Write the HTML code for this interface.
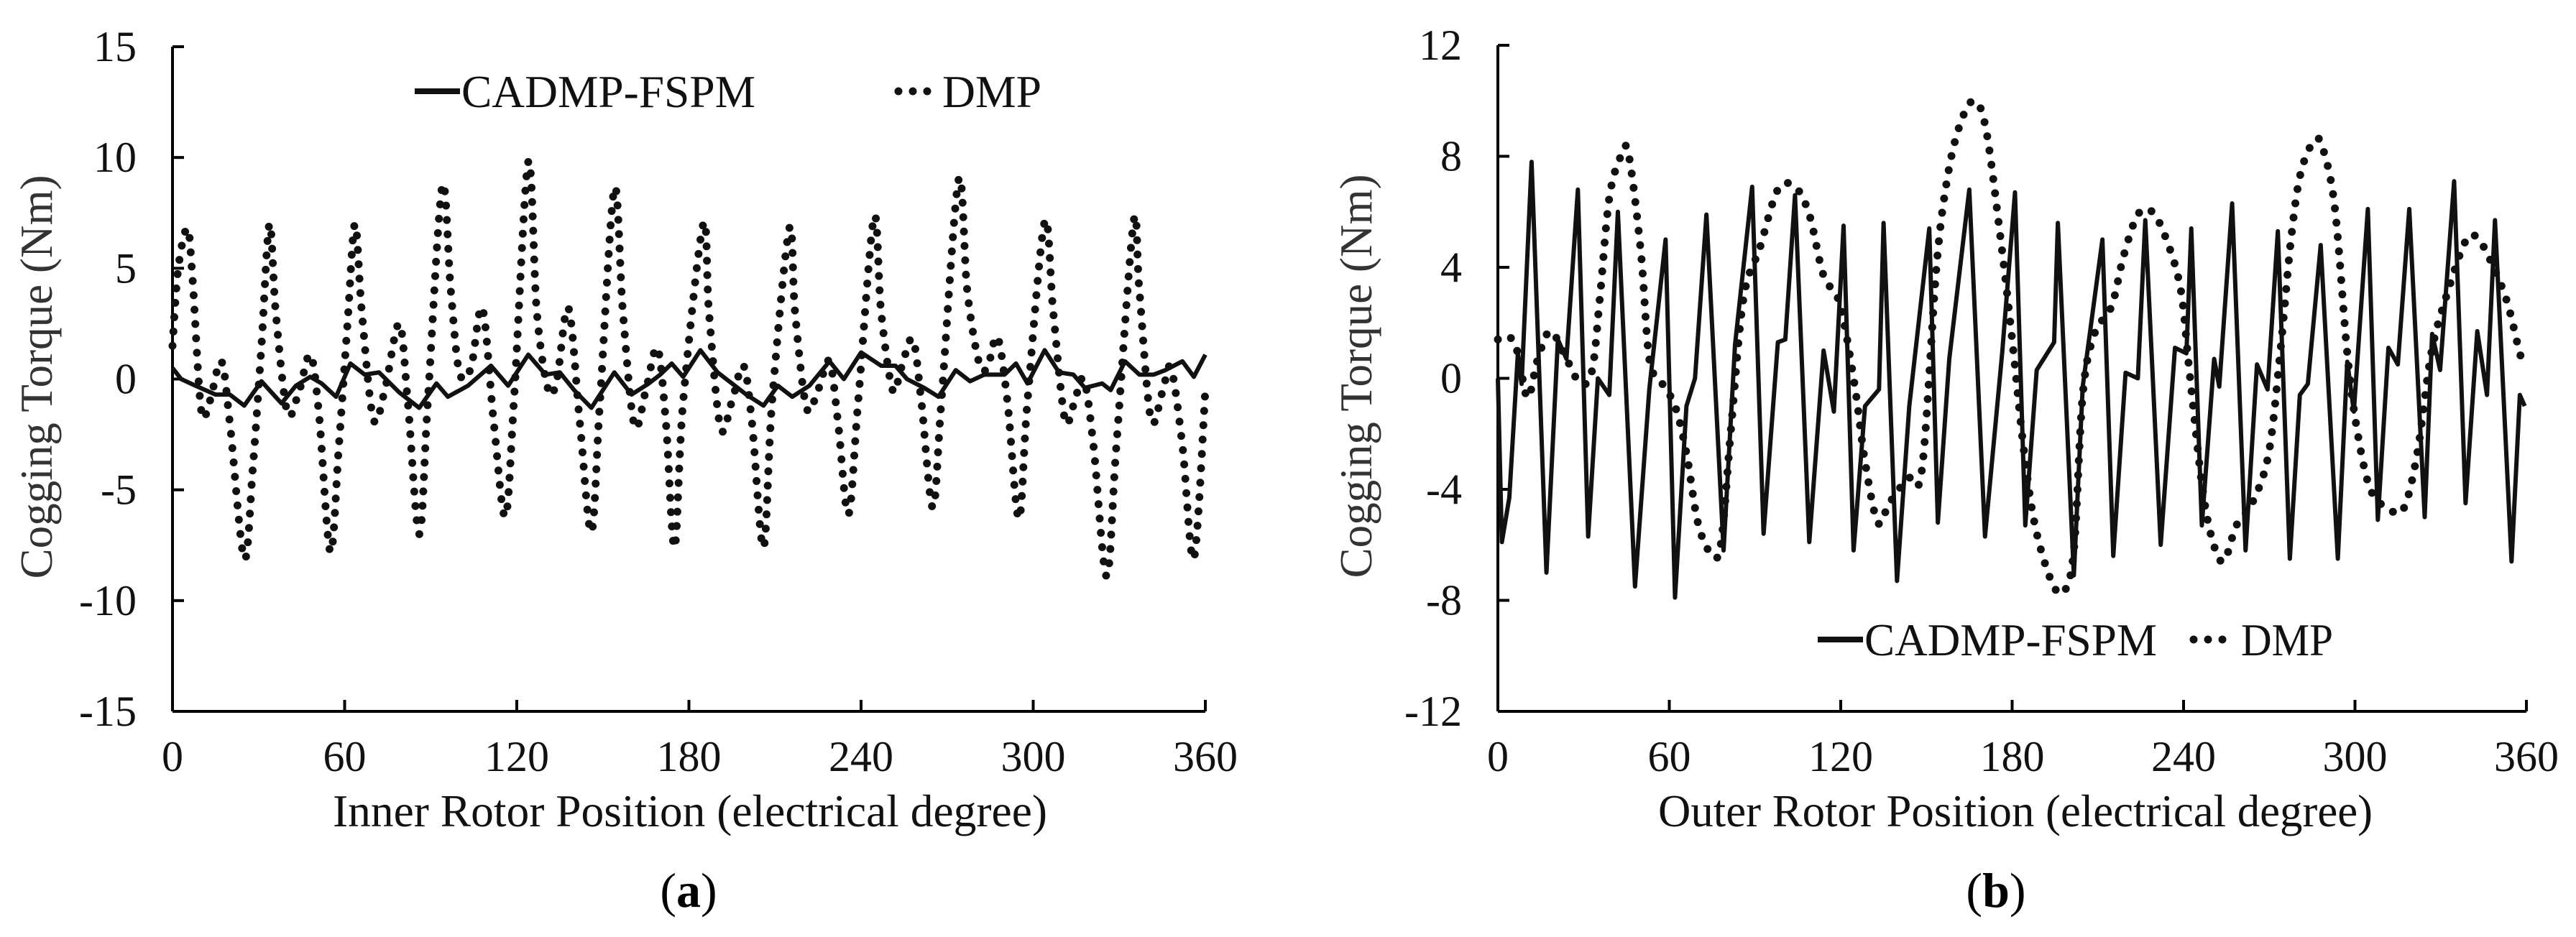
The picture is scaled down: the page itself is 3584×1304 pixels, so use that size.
<!DOCTYPE html>
<html><head><meta charset="utf-8"><style>
html,body{margin:0;padding:0;background:#fff;}
svg{display:block;font-family:"Liberation Serif",serif;}
</style></head><body>
<svg id="fig" width="3584" height="1304" viewBox="0 0 3584 1304" xmlns="http://www.w3.org/2000/svg">
<g id="pa"></g>
<g id="pb"></g>
</svg>
<script>
const xTicks=[0,60,120,180,240,300,360];
const aYTicks=[-15,-10,-5,0,5,10,15];
const bYTicks=[-12,-8,-4,0,4,8,12];
const aCadX=[0,3,8,15,20,25,31,38,43,48,52,57,62,67,72,79,86,92,96,103,111,117,124,130,135,140,146,154,160,166,170,174,178,184,190,195,200,206,211,216,222,229,234,240,247,252,256,262,267,273,278,283,290,294,298,304,309,314,318,324,327,332,337,342,346,352,356,360];
const aCadY=[0.5,0,-0.3,-0.7,-0.7,-1.2,-0.1,-1.1,-0.3,0.1,-0.2,-0.8,0.7,0.2,0.3,-0.6,-1.3,-0.2,-0.8,-0.3,0.6,-0.3,1.1,0.2,0.3,-0.5,-1.3,0.3,-0.7,-0.2,0.2,0.7,0.1,1.3,0.3,-0.2,-0.7,-1.2,-0.3,-0.8,-0.3,0.8,0,1.2,0.6,0.6,0,-0.4,-0.8,0.4,-0.1,0.2,0.2,0.7,-0.2,1.3,0.3,0.2,-0.4,-0.2,-0.5,0.8,0.2,0.2,0.4,0.8,0.1,1.1];
const aDmpX=[0,2,5.2,7,10,13,17,20,25,28,31,33.8,36,40,44,48,51,55,58,61,63.6,66,70,74,79,82,86,89,94,97,100,104,108,112,116,119,124,127,131,134,138,142,146,149,154,157,161,165,169,172,175,178,185,187,191,195,199,202,206,209,215,217,221,225,229,232,235.6,239,244.5,247,251,254,258,261,265,268,274,277,281,284,287.5,291,295,298,304,307,311,314,317.6,321,325.6,329,335,337,341,345,348,352,356,360];
const aDmpY=[1.5,5,6.8,4.5,-1.4,-1,0.8,-2,-8.1,-4,1.5,7,3,-1.5,-0.6,1.1,-1.5,-7.8,-3,2.5,7,3,-1.8,-0.5,2.5,-1,-7,-1,8.7,4,0.3,0.5,3.2,-2,-6.2,-1,9.8,3,-0.5,0,3.2,-2,-6.9,-1,8.6,3,-2.1,-0.5,1.4,-2,-7.6,-1,7,3,-2.2,-1,0.6,-2,-7.6,-1,6.8,3,-1.3,-0.5,0.8,-2,-6.1,-1,7.3,3,-0.5,0.5,1.8,-1,-5.8,-1,9,4,0.8,0.5,1.9,-1,-6.3,-1,7.1,3,-1.8,-1.2,0,-3,-8.9,-3,7.1,4,-1.8,-0.6,0.5,-3,-8.1,-0.5];
const bCadX=[0,1.4,4,7,8.3,11.8,17,21,24,28,31.6,35,39,42,48,53,58.7,62,66,69,73,79,83,89,93,98,100.6,104,109,114,117.6,121,124.5,128.5,133.4,135,139.7,144,151,154,158,165,170.5,176.5,181,184.6,188.6,194.7,196,201.6,204.7,211.6,215.4,219.7,224,226.6,232,237,241,242.7,246.4,250.7,252.5,257,261.7,265.7,269.4,273,277.2,280.7,283.5,288,294,297.3,299.6,304.5,308,311.7,315,319,324.4,327,329.8,334.7,338.7,342.8,346.2,349,354.8,357.7,359.4];
const bCadY=[0,-5.9,-4.3,0.9,-0.2,7.8,-7,1.4,0.7,6.8,-5.7,0,-0.6,6,-7.5,-0.4,5,-7.9,-1,0,5.9,-6.2,1.2,6.9,-5.6,1.3,1.4,6.6,-5.9,1,-1.2,5.5,-6.2,-1,-0.4,5.6,-7.3,-1,5.4,-5.2,0.7,6.8,-5.7,0.9,6.7,-5.3,0.3,1.3,5.6,-7.1,-0.3,5,-6.4,0.2,0,5.7,-6,1.1,0.9,5.4,-5.3,0.7,-0.3,6.3,-6.2,0.5,-0.4,5.3,-6.5,-0.6,-0.2,4.8,-6.5,0.6,-1.2,6.1,-5.1,1.1,0.5,6.1,-5,1.6,0.3,7.1,-4.5,1.7,-0.6,5.7,-6.6,-0.6,-1];
const bDmpX=[0,4,7,10.4,14,18.4,24,29,33,35.7,39,43,45.7,50,53,57,62,66,70,74.5,78,81.7,86,91.7,98,104,109,114,119.6,124.8,128.5,133,137,143.5,148.4,153.5,157.3,161.6,166.5,170.8,176,180,184,188,193.7,198,201.6,204.7,208.8,214.8,219,224,229,234,239,242,246.4,250,254,258.5,264,269.8,274,277.6,281,286,289,293,297.3,300.8,305.4,311.7,317,321.8,326.7,332.4,339,343.3,348.5,353.4,357.7,359.4];
const bDmpY=[1.4,1.5,0.9,-0.7,0.7,1.7,0.7,-0.2,0.3,2.9,6.5,8,8.1,4.6,0.7,-0.1,-1,-2.7,-5.2,-6.3,-6,-1.7,2.9,4.7,6.8,6.9,5.9,3.7,2.7,-0.2,-3,-5.2,-4.5,-3.6,-3.3,4,7.2,9.1,10,9,5,1.4,-2.5,-5.3,-7.3,-7.7,-6.2,-0.6,1.6,2.6,4.4,5.9,6,5,3.2,0.3,-3.8,-5.8,-6.6,-5.3,-4.5,-2.7,1.1,5,7.4,8.6,8.2,6.1,0.9,-1.9,-4,-4.7,-4.7,-2.7,0.9,3.1,5,5,4,2.7,0.9,0.5];

const NS="http://www.w3.org/2000/svg";
function mk(parent,tag,attrs,txt){const e=document.createElementNS(NS,tag);for(const k in attrs)e.setAttribute(k,attrs[k]);if(txt!==undefined)e.textContent=txt;parent.appendChild(e);return e;}
function spline(pts){let d=`M${pts[0][0]},${pts[0][1]}`;for(let i=0;i<pts.length-1;i++){const p0=pts[Math.max(i-1,0)],p1=pts[i],p2=pts[i+1],p3=pts[Math.min(i+2,pts.length-1)];const c1x=p1[0]+(p2[0]-p0[0])/6,c1y=p1[1]+(p2[1]-p0[1])/6,c2x=p2[0]-(p3[0]-p1[0])/6,c2y=p2[1]-(p3[1]-p1[1])/6;d+=`C${c1x},${c1y} ${c2x},${c2y} ${p2[0]},${p2[1]}`;}return d;}

function panel(g,cfg){
  const X=v=>cfg.x0+(v-0)/360*(cfg.x1-cfg.x0);
  const Y=v=>cfg.y0+(cfg.ymax-v)/(cfg.ymax-cfg.ymin)*(cfg.y1-cfg.y0);
  const yb=Y(cfg.ymin);
  let e=mk(g,'line',{x1:cfg.x0,y1:cfg.y0,x2:cfg.x0,y2:yb,stroke:'#000','stroke-width':4});
  
  
  e=mk(g,'line',{x1:cfg.x0,y1:yb,x2:cfg.x1,y2:yb,stroke:'#000','stroke-width':4});
  
  
  cfg.yTicks.forEach(t=>{
    mk(g,'line',{x1:cfg.x0,y1:Y(t),x2:cfg.x0+16,y2:Y(t),stroke:'#000','stroke-width':4});
    const tx=mk(g,'text',{x:cfg.x0-50,y:Y(t)+20,'text-anchor':'end','font-size':60,fill:'#111'},String(t));
    
    
  });
  xTicks.forEach(t=>{
    mk(g,'line',{x1:X(t),y1:yb,x2:X(t),y2:yb-16,stroke:'#000','stroke-width':4});
    const tx=mk(g,'text',{x:X(t),y:1073,'text-anchor':'middle','font-size':60,fill:'#111'},String(t));
    
    
  });
  const cy=(cfg.y0+yb)/2;
  let t=mk(g,'text',{x:0,y:0,transform:`translate(${cfg.ytX},${cy-3}) rotate(-90)`,'text-anchor':'middle','font-size':64,fill:'#333',textLength:562,lengthAdjust:'spacingAndGlyphs'},'Cogging Torque (Nm)');
  
  
  t=mk(g,'text',{x:cfg.xtX,y:1150,'text-anchor':'middle','font-size':64,fill:'#111',textLength:cfg.xtW,lengthAdjust:'spacingAndGlyphs'},cfg.xtitle);
  
  
  t=mk(g,'text',{x:cfg.capX,y:1262,'text-anchor':'middle','font-size':68,fill:'#000'},'');
  mk(t,'tspan',{},'(');mk(t,'tspan',{'font-weight':'bold'},cfg.cap);mk(t,'tspan',{},')');
  
  
  const dp=cfg.dx.map((x,i)=>[X(x),Y(cfg.dy[i])]);
  let p=mk(g,'path',{d:spline(dp),fill:'none',stroke:'#111','stroke-width':11,'stroke-linecap':'round','stroke-dasharray':'0 20'});
  
  
  const cp=cfg.cx.map((x,i)=>X(x)+','+Y(cfg.cy[i])).join(' ');
  p=mk(g,'polyline',{points:cp,fill:'none',stroke:'#111','stroke-width':6,'stroke-linejoin':'round'});
  
  
  const L=cfg.leg;
  mk(g,'line',{x1:L.s1,y1:L.y,x2:L.s2,y2:L.y,stroke:'#111','stroke-width':8});
  t=mk(g,'text',{x:L.t1,y:L.y+22,'font-size':64,fill:'#111',textLength:L.w1,lengthAdjust:'spacingAndGlyphs'},'CADMP-FSPM');
  
  
  mk(g,'line',{x1:L.d1,y1:L.y,x2:L.d2,y2:L.y,stroke:'#111','stroke-width':11,'stroke-linecap':'round','stroke-dasharray':'0 20'});
  t=mk(g,'text',{x:L.t2,y:L.y+22,'font-size':64,fill:'#111',textLength:L.w2,lengthAdjust:'spacingAndGlyphs'},'DMP');
  
  
}
panel(document.getElementById('pa'),{x0:240,x1:1677,y0:65,y1:990,ymin:-15,ymax:15,yTicks:aYTicks,xtitle:'Inner Rotor Position (electrical degree)',xtX:960,xtW:994,ytX:72,cap:'a',capX:958,
  cx:aCadX,cy:aCadY,dx:aDmpX,dy:aDmpY,leg:{y:127,s1:577,s2:640,t1:642,w1:409,d1:1250,d2:1303,t2:1311,w2:138}});
panel(document.getElementById('pb'),{x0:2084,x1:3515,y0:63,y1:990,ymin:-12,ymax:12,yTicks:bYTicks,xtitle:'Outer Rotor Position (electrical degree)',xtX:2804,xtW:994,ytX:1908,cap:'b',capX:2777,
  cx:bCadX,cy:bCadY,dx:bDmpX,dy:bDmpY,leg:{y:890,s1:2529,s2:2592,t1:2594,w1:407,d1:3052,d2:3106,t2:3118,w2:128}});
</script>
</body></html>
